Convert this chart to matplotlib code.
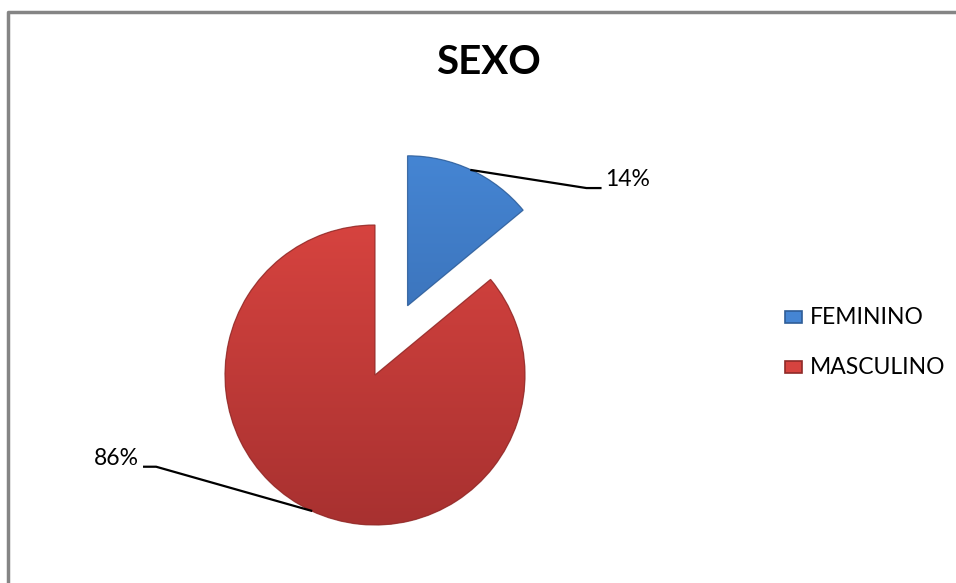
import numpy as np
import matplotlib
matplotlib.use("Agg")
import matplotlib.pyplot as plt
import matplotlib.colors as mcolors
from matplotlib.patches import Rectangle, Wedge

title = "SEXO"
categories = ["FEMININO", "MASCULINO"]
shares = [14, 86]
pct_labels = ["14%", "86%"]
colors_top = ["#4585d3", "#d6433f"]
colors_bottom = ["#3466a8", "#a83130"]
edge_colors = ["#2f5d97", "#8f2a28"]

W, H = 956, 583
fig = plt.figure(figsize=(W / 100, H / 100), dpi=100)
fig.patch.set_facecolor("white")
ax = fig.add_axes([0, 0, 1, 1])

cx, cy, R = 375, H - 375, 150
# matplotlib's explode offset is in data units -> scale by radius
explode = [0.51 * R, 0]
wedges, _ = ax.pie(shares, startangle=90, counterclock=False,
                   explode=explode, center=(cx, cy), radius=R,
                   colors=colors_top,
                   wedgeprops=dict(linewidth=0))

grad = np.linspace(0, 1, 256).reshape(-1, 1)
for w, ct, cb, ec in zip(wedges, colors_top, colors_bottom, edge_colors):
    cmap = mcolors.LinearSegmentedColormap.from_list("g", [cb, ct])
    x0, y0 = w.center
    r = w.r
    im = ax.imshow(grad, cmap=cmap, extent=[x0 - r, x0 + r, y0 - r, y0 + r],
                   origin="lower", aspect="auto", zorder=w.get_zorder() + 0.1,
                   interpolation="bilinear")
    im.set_clip_path(w)
    ax.add_patch(Wedge(w.center, w.r, w.theta1, w.theta2,
                       fill=False, edgecolor=ec, lw=0.9, alpha=0.8,
                       zorder=w.get_zorder() + 0.2))

# leader lines and percentage labels
label_font = dict(family="Lato", size=16.5, color="black")
for w, lab in zip(wedges, pct_labels):
    ang = np.deg2rad((w.theta1 + w.theta2) / 2)
    ax0 = w.center[0] + w.r * np.cos(ang)
    ay0 = w.center[1] + w.r * np.sin(ang)
    if np.cos(ang) > 0:
        ex, ey = ax0 + 115, ay0 - 18
        fx = ex + 14
        ax.plot([ax0, ex, fx], [ay0, ey, ey], color="black", lw=1.6, zorder=5)
        ax.text(fx + 5, ey + 9, lab, ha="left", va="center", **label_font)
    else:
        ex, ey = ax0 - 155, ay0 + 44
        fx = ex - 12
        ax.plot([ax0, ex, fx], [ay0, ey, ey], color="black", lw=1.6, zorder=5)
        ax.text(fx - 5, ey + 8, lab, ha="right", va="center", **label_font)

# legend
leg_x, leg_y0, leg_dy = 785, H - 317, 50
for i, (cat, ct, ec) in enumerate(zip(categories, colors_top, edge_colors)):
    yy = leg_y0 - i * leg_dy
    ax.add_patch(Rectangle((leg_x, yy - 6), 17, 12, facecolor=ct, edgecolor=ec, lw=1.2, zorder=5))
    ax.text(leg_x + 25, yy, cat, ha="left", va="center", **label_font)

# title
ax.text(488, H - 63, title, ha="center", va="center", family="Lato",
        weight="bold", size=29, color="black")

# chart border
ax.plot([8, 8, W + 5], [-5, H - 12, H - 12], color="#858585", lw=2.5,
        clip_on=False, zorder=10)

ax.set_xlim(0, W)
ax.set_ylim(0, H)
ax.set_aspect("auto")
ax.axis("off")

fig.savefig("out.png", dpi=100, facecolor="white")
